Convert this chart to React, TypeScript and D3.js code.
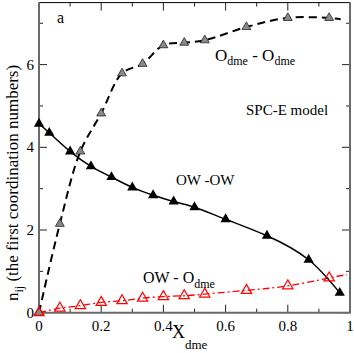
import React, { useEffect, useRef } from "react";
import * as d3 from "d3";

// OW - OW (black filled triangles, solid)
const xOW = [0, 0.033, 0.1, 0.167, 0.233, 0.3, 0.367, 0.433, 0.5, 0.6, 0.733, 0.867, 0.967];
const nOW = [4.57, 4.35, 3.9, 3.54, 3.28, 3.03, 2.84, 2.69, 2.55, 2.26, 1.86, 1.28, 0.48];

// Odme - Odme (grey triangles, dashed)
const xDD = [0, 0.067, 0.133, 0.2, 0.267, 0.333, 0.4, 0.467, 0.533, 0.667, 0.8, 0.933];
const nDD = [0, 2.15, 3.9, 4.82, 5.79, 6.02, 6.47, 6.53, 6.59, 6.91, 7.13, 7.13];
const tailDD = [0.97, 7.1];

// OW - Odme (red open triangles, dash-dot)
const xWD = [0, 0.067, 0.133, 0.2, 0.267, 0.333, 0.4, 0.467, 0.533, 0.667, 0.8, 0.933];
const nWD = [0, 0.11, 0.17, 0.25, 0.29, 0.35, 0.39, 0.41, 0.45, 0.54, 0.65, 0.84];
const tailWD = [0.99, 0.92];

const xMajor = [0, 0.2, 0.4, 0.6, 0.8, 1];
const xMinor = [0.1, 0.3, 0.5, 0.7, 0.9];
const yMajor = [0, 2, 4, 6];
const yMinor = [1, 3, 5, 7];

const FONT = "Liberation Serif, Times New Roman, DejaVu Serif, serif";

const App = () => {
  const svgRef = useRef<SVGSVGElement>(null);

  useEffect(() => {
    const w = 354;
    const h = 353;
    const left = 39;
    const right = 350;
    const top = 2.6;
    const bottom = 312.7;

    const svg = d3.select(svgRef.current).attr("width", w).attr("height", h)
      .style("font-family", FONT);
    svg.selectAll("*").remove();
    svg.append("rect").attr("width", w).attr("height", h).attr("fill", "#fff");

    const x = d3.scaleLinear().domain([0, 1]).range([left, right]);
    const y = d3.scaleLinear().domain([0, 7.5]).range([bottom, top]);

    // ticks, inside on all four sides
    const g = svg.append("g").attr("stroke", "#222").attr("stroke-width", 1);
    const tick = (v: number, len: number) => {
      g.append("line").attr("x1", x(v)).attr("x2", x(v)).attr("y1", bottom).attr("y2", bottom - len);
      g.append("line").attr("x1", x(v)).attr("x2", x(v)).attr("y1", top).attr("y2", top + len);
    };
    const ytick = (v: number, len: number) => {
      g.append("line").attr("y1", y(v)).attr("y2", y(v)).attr("x1", left).attr("x2", left + len);
      g.append("line").attr("y1", y(v)).attr("y2", y(v)).attr("x1", right).attr("x2", right - len);
    };
    xMajor.forEach((v) => tick(v, 8));
    xMinor.forEach((v) => tick(v, 4));
    yMajor.forEach((v) => ytick(v, 8));
    yMinor.forEach((v) => ytick(v, 4));

    // frame
    svg.append("line").attr("x1", left).attr("x2", right).attr("y1", top).attr("y2", top)
      .attr("stroke", "#000").attr("stroke-width", 1);
    svg.append("path")
      .attr("d", `M${left},${top}V${bottom}H${right}V${top}`)
      .attr("fill", "none").attr("stroke", "#6a6a6a").attr("stroke-width", 2);

    // tick labels
    svg.selectAll(".xl").data(xMajor).join("text")
      .attr("x", (d) => x(d)).attr("y", 331)
      .attr("text-anchor", "middle").style("font-size", "15px")
      .text((d) => (d === 0 ? "0" : d === 1 ? "1" : d3.format(".1f")(d)));
    svg.selectAll(".yl").data(yMajor).join("text")
      .attr("x", 34).attr("y", (d) => y(d) + 5)
      .attr("text-anchor", "end").style("font-size", "15px")
      .text((d) => d);

    const line = d3.line<number[]>().x((d) => x(d[0])).y((d) => y(d[1])).curve(d3.curveNatural);
    const lineDD = d3.line<number[]>().x((d) => x(d[0])).y((d) => y(d[1])).curve(d3.curveCatmullRom.alpha(0.5));

    const ptsOW = xOW.map((v, i) => [v, nOW[i]]);
    const ptsDD = xDD.map((v, i) => [v, nDD[i]]);
    const ptsWD = xWD.map((v, i) => [v, nWD[i]]);

    svg.append("path").attr("d", line([...ptsWD, tailWD]))
      .attr("fill", "none").attr("stroke", "#ff0000").attr("stroke-width", 1.3)
      .attr("stroke-dasharray", "7,3,2,3");
    svg.append("path").attr("d", line(ptsOW))
      .attr("fill", "none").attr("stroke", "#000").attr("stroke-width", 1.5);
    svg.append("path").attr("d", lineDD([...ptsDD, tailDD]))
      .attr("fill", "none").attr("stroke", "#000").attr("stroke-width", 2)
      .attr("stroke-dasharray", "8,5");

    const triBig = d3.symbol().type(d3.symbolTriangle).size(46);
    const triSmall = d3.symbol().type(d3.symbolTriangle).size(34);

    svg.selectAll(".mdd").data(ptsDD).join("path")
      .attr("d", triSmall).attr("transform", (d) => `translate(${x(d[0])},${y(d[1])})`)
      .attr("fill", "#8a8a8a").attr("stroke", "#222").attr("stroke-width", 0.8);
    svg.selectAll(".mow").data(ptsOW).join("path")
      .attr("d", triBig).attr("transform", (d) => `translate(${x(d[0])},${y(d[1])})`)
      .attr("fill", "#000");
    svg.selectAll(".mwd").data(ptsWD).join("path")
      .attr("d", triBig).attr("transform", (d) => `translate(${x(d[0])},${y(d[1])})`)
      .attr("fill", "none").attr("stroke", "#ff0000").attr("stroke-width", 1.2);

    // labels
    const txt = (tx: number, ty: number, size: number, s: string) =>
      svg.append("text").attr("x", tx).attr("y", ty).style("font-size", `${size}px`).text(s);

    txt(57, 23, 16, "a");
    txt(246, 115, 15, "SPC-E model");
    txt(176, 185, 15, "OW -OW");

    const t1 = svg.append("text").attr("x", 215).attr("y", 61).style("font-size", "17px");
    t1.append("tspan").text("O");
    t1.append("tspan").attr("dy", 4).style("font-size", "12px").text("dme");
    t1.append("tspan").attr("dy", -4).text(" - O");
    t1.append("tspan").attr("dy", 4).style("font-size", "12px").text("dme");

    const t2 = svg.append("text").attr("x", 143).attr("y", 283).style("font-size", "16px");
    t2.append("tspan").text("OW - O");
    t2.append("tspan").attr("dy", 5).style("font-size", "12px").text("dme");

    const t3 = svg.append("text").attr("x", 172).attr("y", 338).style("font-size", "18px");
    t3.append("tspan").text("X");
    t3.append("tspan").attr("dy", 11).style("font-size", "13px").text("dme");

    const t4 = svg.append("text")
      .attr("transform", "translate(18,301) rotate(-90)")
      .style("font-size", "17px");
    t4.append("tspan").text("n");
    t4.append("tspan").attr("dy", 5).style("font-size", "12px").text("ij");
    t4.append("tspan").attr("dy", -5).text(" (the first coordination numbers)");
  }, []);

  return (
    <svg ref={svgRef} style={{ position: "absolute", left: 0, top: 0, display: "block" }}></svg>
  );
};

export default App;
